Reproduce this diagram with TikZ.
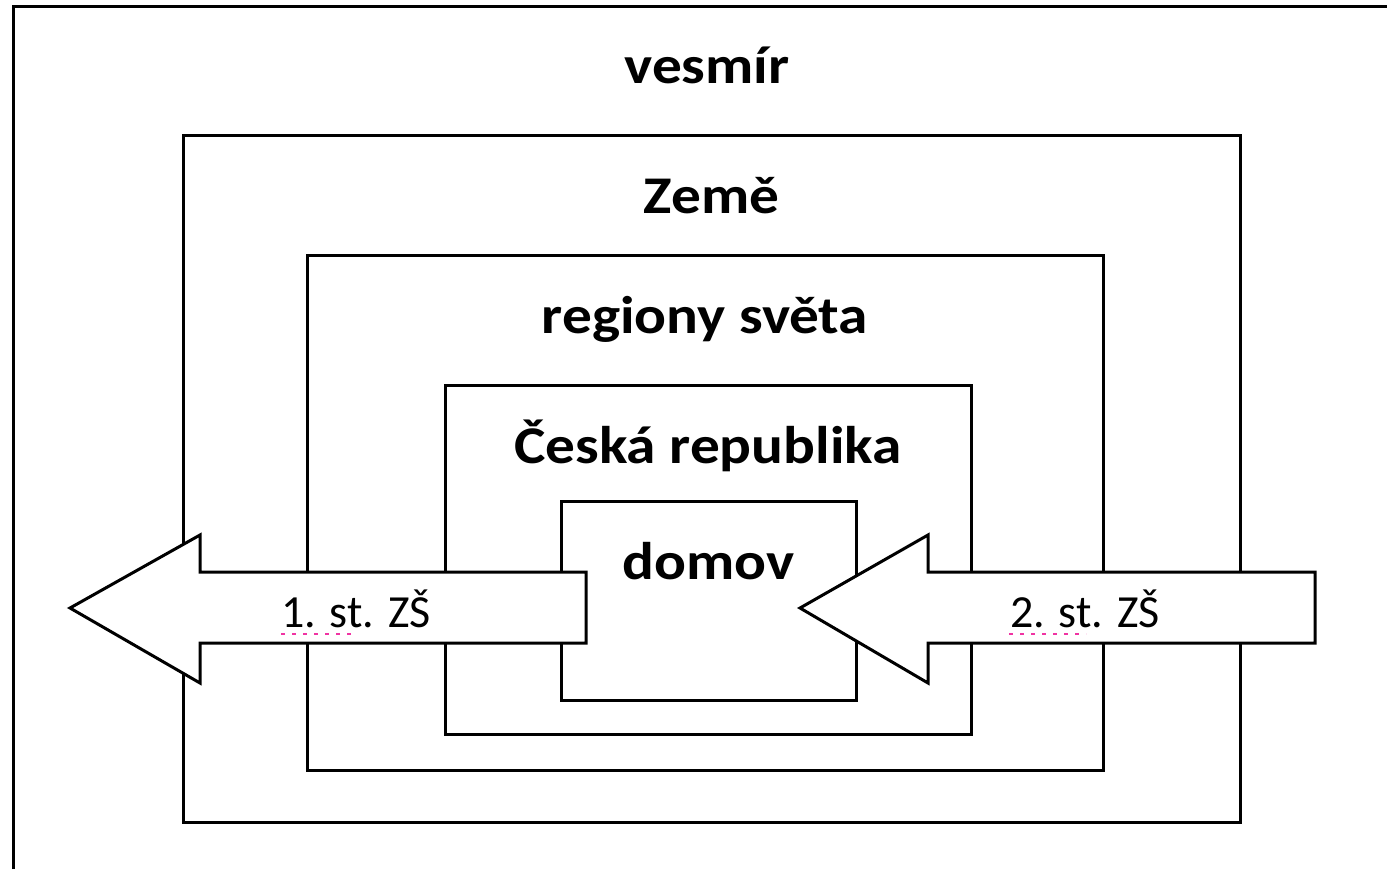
\documentclass[tikz,border=0pt]{standalone}
\usepackage{fontspec}
\setmainfont{Carlito}
\newfontfamily\boxfont{Carlito}[FakeStretch=1.12]
\begin{document}
\begin{tikzpicture}
  [x=0.5pt,y=-0.5pt
  ,box/.style={draw=black,line width=1.5pt}
  ,lab/.style={font=\boxfont\bfseries\fontsize{26.5}{30}\selectfont,anchor=base}
  ,arrowshape/.style={draw=black,fill=white,line width=1.5pt,line join=miter}
  ,zs/.style={font=\fontsize{23}{27}\selectfont,anchor=base}
  ,spell/.style={draw=magenta!80,line width=1pt,dash pattern=on 2pt off 3.5pt}]
  \useasboundingbox (0,0) rectangle (1387,869);
  % outer frame, cut by the page
  \draw[box] (13,869) -- (13,6) -- (1387,6);
  \node[lab] (vesmir) at (707,83) {vesmír};
  % nested boxes
  \foreach \xa/\ya/\xb/\yb/\n/\txt in
      {183/135/1240/822/zeme/Země
      ,307/255/1103/770/regiony/regiony světa
      ,445/385/971/734/cr/Česká republika
      ,561/501/856/700/domov/domov}{
    \draw[box] (\xa,\ya) rectangle (\xb,\yb);
    \node[lab] (\n) at ({(\xa+\xb)/2},\ya+78) {\txt};
  }
  % arrows
  \draw[arrowshape] (586,572) -- (200,572) -- (200,535) -- (70,608)
                 -- (200,683) -- (200,643) -- (586,643) -- cycle;
  \node[zs] (st1) at (356,627) {1. st. ZŠ};
  \draw[spell] (281,634) -- (357,634);
  \draw[arrowshape] (1315,572) -- (928,572) -- (928,535) -- (800,608)
                 -- (928,683) -- (928,643) -- (1315,643) -- cycle;
  \node[zs] (st2) at (1085,627) {2. st. ZŠ};
  \draw[spell] (1009,634) -- (1086,634);
\end{tikzpicture}
\end{document}
